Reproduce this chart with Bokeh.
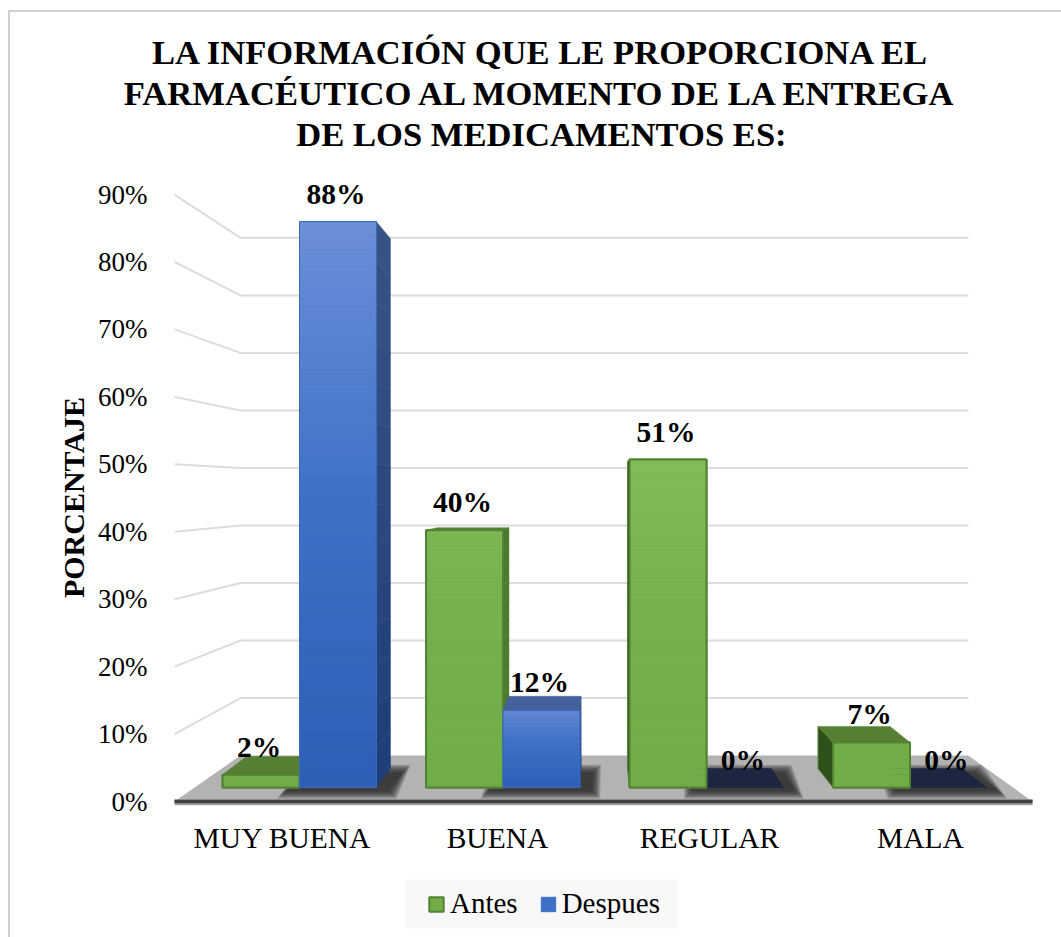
import math
from bokeh.plotting import figure
from bokeh.embed import file_html
from bokeh.resources import INLINE
from bokeh.core.properties import value
from bokeh.models import (Range1d, FixedTicker, PrintfTickFormatter, Legend, LegendItem, Label)

categories = ["MUY BUENA", "BUENA", "REGULAR", "MALA"]
antes = [2, 40, 51, 7]
despues = [88, 12, 0, 0]
y_ticks = [0, 10, 20, 30, 40, 50, 60, 70, 80, 90]
title = "LA INFORMACIÓN QUE LE PROPORCIONA EL\nFARMACÉUTICO AL MOMENTO DE LA ENTREGA\nDE LOS MEDICAMENTOS ES:"
y_title = "PORCENTAJE"
series_names = ["Antes", "Despues"]
category_ticks = [-0.0835, 0.973, 2.0147, 3.0516]

SERIF = "Liberation Serif"
W, H = 1061, 937
BAR_W = 0.378
VP = (1.459, 46.3)   # vanishing point in bar units
K = 0.0637           # bar depth

def back(u, v, k=K):
    return u + k * (VP[0] - u), v + k * (VP[1] - v)

def mix(a, b, t):
    ca = [int(a[i:i + 2], 16) for i in (1, 3, 5)]
    cb = [int(b[i:i + 2], 16) for i in (1, 3, 5)]
    return "#%02x%02x%02x" % tuple(round(x + (y - x) * t) for x, y in zip(ca, cb))

p = figure(width=W, height=H, output_backend="svg", toolbar_location=None,
           x_range=Range1d(-299 / 203.5, (W - 299) / 203.5),
           y_range=Range1d((801 - H) / 6.744, 801 / 6.744),
           min_border_left=0, min_border_right=0, min_border_top=0, min_border_bottom=0)
p.extra_y_ranges["bars"] = Range1d((787 - H) / 6.43, 787 / 6.43)
p.outline_line_color = None
p.grid.visible = False
p.background_fill_alpha = 0
p.border_fill_alpha = 0
p.styles = {
    "background-color": "white",
    "background-image": "linear-gradient(#d0d0d0,#d0d0d0),linear-gradient(#d0d0d0,#d0d0d0)",
    "background-size": "2px 937px,1061px 2px",
    "background-position": "8px 10px,8px 10px",
    "background-repeat": "no-repeat",
}

# axes
ya = p.yaxis[0]
ya.fixed_location = -0.634
ya.ticker = FixedTicker(ticks=y_ticks)
ya.formatter = PrintfTickFormatter(format="%d%%")
ya.axis_line_color = None
ya.major_tick_line_color = None
ya.minor_tick_line_color = None
ya.major_label_standoff = 17
ya.major_label_text_font = SERIF
ya.major_label_text_font_size = "27px"
ya.major_label_text_color = "#000000"

xa = p.xaxis[0]
xa.fixed_location = -1.335
xa.ticker = FixedTicker(ticks=category_ticks)
xa.major_label_overrides = dict(zip(category_ticks, categories))
xa.axis_line_color = None
xa.major_tick_line_color = None
xa.minor_tick_line_color = None
xa.major_label_standoff = 5
xa.major_label_text_font = SERIF
xa.major_label_text_font_size = "29.5px"
xa.major_label_text_color = "#000000"

# walls
WALL_L, WALL_R, AX_X = -0.29, 3.287, -0.614
for t in y_ticks[1:]:
    by = t + 0.147 * (VP[1] - t)
    p.line([AX_X, WALL_L, WALL_R], [t, by, by], line_color="#dcdcdc", line_width=2)

# floor
FLOOR_XS = [-0.614, 3.602, 3.287, -0.29]
p.patch(FLOOR_XS, [0, 0, 0.147 * VP[1], 0.147 * VP[1]], fill_color="#b3b3b3", line_color=None)
p.line(FLOOR_XS[:2], [-0.12, -0.12], line_color="#a0a0a0", line_width=6)
p.line(FLOOR_XS[:2], [0, 0], line_color="#404040", line_width=3.5)

BR = dict(y_range_name="bars")

# shadows of the second series on the floor
for i in range(4):
    u0, u1 = i, i + BAR_W
    for e in range(9):
        g = (8 - e) * 0.0049
        gv = (8 - e) * 0.15
        bx0, _ = back(u0, 0)
        bx1, by = back(u1, 0)
        p.patch([u0 - 0.07 - g, u1 + 0.06 + g, bx1 + 0.06 + g, bx0 - 0.04 - g],
                [-0.55 - gv, -0.55 - gv, by - 0.6 + gv, by - 0.6 + gv],
                fill_color="#222222", fill_alpha=0.17, line_color=None, **BR)

def faces(u0, val, edge, top_col, side_col, side_top):
    u1 = u0 + BAR_W
    bu0, bv = back(u0, val)
    bu1, _ = back(u1, val)
    bu0b, bvb = back(u0, 0)
    # side face
    if u1 < VP[0]:
        n = 14
        for s in range(n):
            a, b = val * s / n, val * (s + 1) / n
            ba, bb = back(u1, a)[1], back(u1, b)[1]
            p.patch([u1, bu1, bu1, u1], [a, ba, bb, b], fill_color=mix(side_col, side_top, s / n),
                    line_color=mix(side_col, side_top, s / n), line_width=0.5, **BR)
    if u0 > VP[0]:
        p.patch([u0, bu0, bu0b, u0], [val, bv, bvb, 0], fill_color=side_col, line_color=edge, line_width=1, **BR)
    # top face
    if val < VP[1]:
        p.patch([u0, u1, bu1, bu0], [val, val, bv, bv], fill_color=top_col, line_color=top_col, line_width=0.5, **BR)

GREEN = ("#70ad47", "#76b24e", "#86c15e")
BLUE = ("#2d5fb7", "#3f70c7", "#6c90d8")

def strips(u0, val, ramp):
    n = max(1, int(val))
    for s in range(n):
        t = (s + 0.5) / n * (val / 60 if ramp is GREEN else 0.85 + val / 600)
        t = min(t, 1)
        c = mix(ramp[0], ramp[1], t * 2) if t < 0.5 else mix(ramp[1], ramp[2], t * 2 - 1)
        p.quad(left=[u0], right=[u0 + BAR_W], bottom=[val * s / n], top=[val * (s + 1) / n],
               fill_color=c, line_color=c, line_width=0.4, **BR)

lefts_a = [i - BAR_W for i in range(4)]
lefts_b = [float(i) for i in range(4)]
keep = [i for i in range(4) if despues[i] > 0]

# whole series, drawn first and used by the legend
ra = p.quad(left=lefts_a, right=[u + BAR_W for u in lefts_a], bottom=[0] * 4, top=antes,
            fill_color=GREEN[0], line_color="#548235", line_width=2, **BR)
rb = p.quad(left=[lefts_b[i] for i in keep], right=[lefts_b[i] + BAR_W for i in keep], bottom=[0] * len(keep),
            top=[despues[i] for i in keep], fill_color=BLUE[1], line_color=BLUE[1], line_width=1, **BR)

def draw_a(i):
    faces(lefts_a[i], antes[i], "#548235", "#567f33", "#2f5018" if lefts_a[i] > VP[0] else "#4f7a2d", "#4f7a2d")
    strips(lefts_a[i], antes[i], GREEN)
    p.quad(left=[lefts_a[i]], right=[lefts_a[i] + BAR_W], bottom=[0], top=[antes[i]],
           fill_color=None, line_color="#548235", line_width=2, **BR)

def draw_b(i):
    faces(lefts_b[i], despues[i], "#2f5597", "#1c2640" if despues[i] == 0 else "#44619c", "#1f3f78", "#3a5385")
    if despues[i] > 0:
        strips(lefts_b[i], despues[i], BLUE)
        p.quad(left=[lefts_b[i]], right=[lefts_b[i] + BAR_W], bottom=[0], top=[despues[i]],
               fill_color=None, line_color="#3c68ba", line_width=1, **BR)

for i in range(4):
    if lefts_b[i] < VP[0]:
        draw_a(i)
        draw_b(i)
    else:
        draw_b(i)
        draw_a(i)

# data labels
cx = [u + BAR_W / 2 for u in lefts_a] + [u + BAR_W / 2 for u in lefts_b]
vals = antes + despues
p.text(cx, vals, text=[f"{v}%" for v in vals], text_font=value(SERIF), text_font_style="bold",
       text_font_size="29.5px", text_color="#000000", text_align="center", text_baseline="middle",
       x_offset=-2, y_offset=-28, **BR)

# legend panel and legend
p.quad(left=[0.521], right=[1.857], bottom=[-18.83], top=[-11.57], fill_color="#f8f8f8", line_color=None)
legend = Legend(items=[LegendItem(label=series_names[0], renderers=[ra]),
                       LegendItem(label=series_names[1], renderers=[rb])],
                orientation="horizontal", location=(427, 17), margin=0, padding=0, spacing=21,
                glyph_width=18, glyph_height=18, label_standoff=5, label_text_font=SERIF,
                label_text_font_size="29px", label_text_color="#000000",
                background_fill_alpha=0, border_line_color=None)
p.add_layout(legend, "center")

# title
p.add_layout(Label(x=541, y=H - 32, x_units="screen", y_units="screen", text=title, text_align="center",
                   text_baseline="top", text_font=SERIF, text_font_size="34.6px", text_font_style="bold",
                   text_color="#000000", text_line_height=1.09))

# value axis title
p.add_layout(Label(x=73, y=H - 497, x_units="screen", y_units="screen", text=y_title, angle=math.pi / 2,
                   text_align="center", text_baseline="middle", text_font=SERIF, text_font_size="30px",
                   text_font_style="bold", text_color="#000000"))

open("out.html", "w").write(file_html(p, INLINE))
